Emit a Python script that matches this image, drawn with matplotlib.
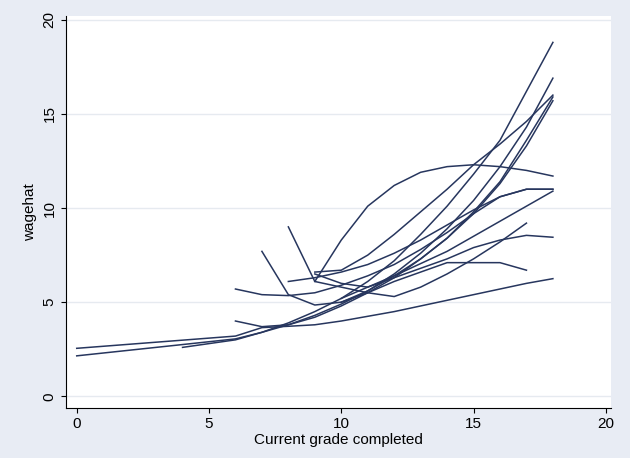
import matplotlib
matplotlib.use("Agg")
import matplotlib.pyplot as plt
plt.rcParams['font.family'] = ['Liberation Sans', 'DejaVu Sans']

series = [
    ([0,6,7,8,9,10,11,12,13,14,15,16,17,18],[2.55,3.2,3.65,3.72,3.8,4.0,4.25,4.5,4.8,5.1,5.4,5.7,6.0,6.25]),
    ([0,6,7,8,9,10,11,12,13,14,15,16,17,18],[2.15,3.05,3.4,3.8,4.3,4.9,5.6,6.5,7.6,8.9,10.4,12.2,14.3,16.9]),
    ([4,6,7,8,9,10,11,12,13,14,15,16,17,18],[2.6,3.0,3.4,3.9,4.5,5.2,6.1,7.2,8.6,10.1,11.8,13.6,16.2,18.8]),
    ([6,7,8,9,10,11,12,13,14,15,16,17,18],[4.0,3.7,3.8,4.2,4.8,5.5,6.3,7.3,8.4,9.7,11.3,13.3,15.7]),
    ([6,7,8,9,10,11,12,13,14,15,16,17,18],[5.7,5.4,5.35,5.5,5.9,6.4,7.0,7.8,8.7,9.7,10.6,11.0,11.0]),
    ([7,8,9,10,11,12,13,14,15,16,17,18],[7.7,5.4,4.85,5.0,5.6,6.4,7.3,8.4,9.8,11.4,13.6,15.9]),
    ([8,9,10,11,12,13,14,15,16,17],[9.0,6.1,5.8,5.5,5.3,5.8,6.5,7.3,8.2,9.2]),
    ([8,9,10,11,12,13,14,15,16,17,18],[6.1,6.3,6.6,7.0,7.6,8.3,9.1,9.9,10.6,11.0,11.0]),
    ([9,10,11,12,13,14,15,16,17,18],[6.1,8.3,10.1,11.2,11.9,12.2,12.3,12.2,12.0,11.7]),
    ([9,10,11,12,13,14,15,16,17,18],[6.6,6.7,7.5,8.6,9.8,11.0,12.3,13.4,14.6,16.0]),
    ([9,10,11,12,13,14,15,16,17,18],[6.5,6.0,5.8,6.3,6.8,7.3,7.9,8.3,8.55,8.45]),
    ([10,11,12,13,14,15,16,17],[5.0,5.5,6.1,6.6,7.1,7.1,7.1,6.7]),
    ([10,12,14,16,18],[5.2,6.4,7.7,9.3,10.9]),
]
xticks = [0,5,10,15,20]
yticks = [0,5,10,15,20]

fig = plt.figure(figsize=(6.3,4.58), dpi=100, facecolor="#e8ecf4")
ax = fig.add_axes([0.105, 0.11, 0.865, 0.855])
ax.set_facecolor("white")
for x, y in series:
    ax.plot(x, y, color="#27365e", lw=1.1)
ax.set_xlim(-0.4, 20.2)
ax.set_ylim(-0.6, 20.2)
ax.set_xticks(xticks); ax.set_yticks(yticks)
ax.set_yticklabels([str(v) for v in yticks], rotation=90, va="center")
ax.yaxis.grid(True, color="#e6eaf0", lw=1)
ax.set_axisbelow(True)
for s in ["top","right"]:
    ax.spines[s].set_visible(False)
ax.tick_params(labelsize=11)
ax.set_xlabel("Current grade completed", fontsize=11, labelpad=1)
ax.set_ylabel("wagehat", fontsize=11)
fig.savefig("out.png", dpi=100, facecolor=fig.get_facecolor())
